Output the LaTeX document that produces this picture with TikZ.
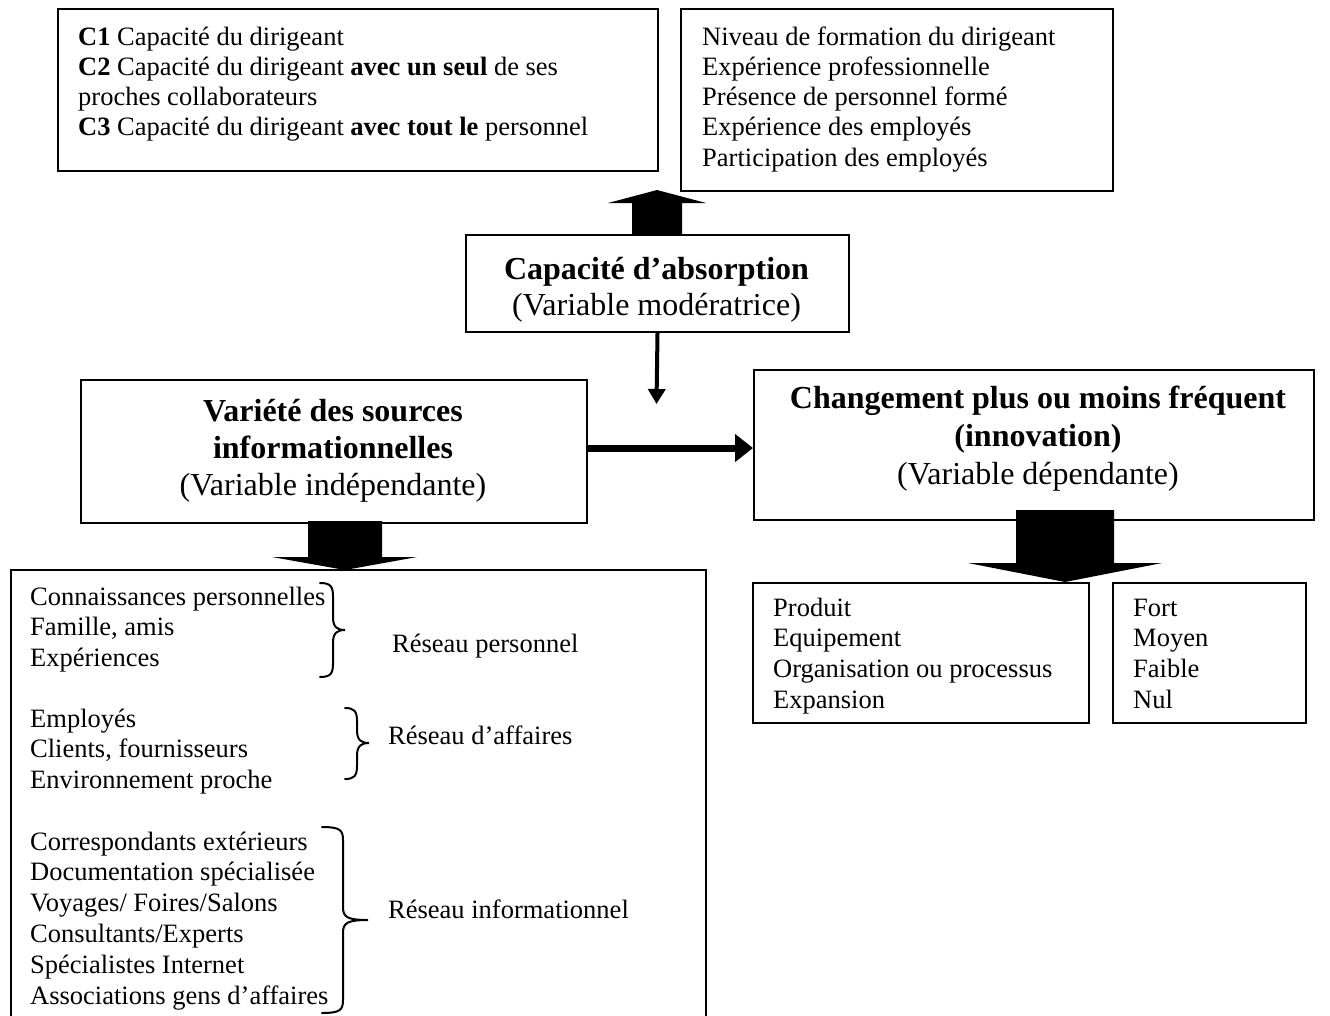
\documentclass[tikz,border=0pt]{standalone}
\usepackage{fontspec}
\setmainfont{Liberation Serif}
\usetikzlibrary{arrows.meta}
\tikzset{
  box/.style={draw, line width=2pt, inner sep=0pt, anchor=north west},
  txt/.style={anchor=base west, inner sep=0pt, font=\fontsize{26.5}{30}\selectfont},
  head/.style={anchor=base, inner sep=0pt, font=\fontsize{32}{37}\selectfont},
  blockarrow/.style={fill=black, draw=none},
  bracestyle/.style={line width=2pt, line cap=round},
  thinarrow/.style={line width=4pt, -{Triangle[length=15pt,width=17pt]}},
  thickarrow/.style={line width=7pt, -{Triangle[length=18pt,width=27pt]}},
}
% x0, xv, xtip, ytop, ymid, ybot
\newcommand\curlybr[6]{%
  \draw[bracestyle] (#1,#4) .. controls ({#2-3},#4) and (#2,{#4+3}) .. (#2,{#4+13})
    -- (#2,{#5-13}) .. controls (#2,{#5-3}) and ({#2+4},#5) .. (#3,#5)
    .. controls ({#2+4},#5) and (#2,{#5+3}) .. (#2,{#5+13})
    -- (#2,{#6-13}) .. controls (#2,{#6-3}) and ({#2-3},#6) .. (#1,#6);}
\begin{document}
\begin{tikzpicture}[x=1pt,y=-1pt]
\useasboundingbox (0,0) rectangle (1330,1015);
\fill[white] (0,0) rectangle (1330,1015);

% boxes
\node[box, minimum width=600pt, minimum height=162pt] (A) at (57,8) {};
\node[box, minimum width=432pt, minimum height=182pt] (B) at (680,8) {};
\node[box, minimum width=383pt, minimum height=97pt] (C) at (465,234) {};
\node[box, minimum width=506pt, minimum height=143pt] (D) at (80,379) {};
\node[box, minimum width=560pt, minimum height=150pt] (E) at (753,369) {};
\node[box, minimum width=695pt, minimum height=470pt] (F) at (10,569) {};
\node[box, minimum width=336pt, minimum height=140pt] (G) at (752,582) {};
\node[box, minimum width=193pt, minimum height=140pt] (H) at (1112,582) {};

% box A text
\node[txt] (a1) at (78,45) {\textbf{C1} Capacité du dirigeant};
\node[txt] (a2) at (78,75) {\textbf{C2} Capacité du dirigeant \textbf{avec un seul} de ses};
\node[txt] (a3) at (78,105) {proches collaborateurs};
\node[txt] (a4) at (78,135) {\textbf{C3} Capacité du dirigeant \textbf{avec tout le} personnel};

% box B text
\foreach \t [count=\i] in {Niveau de formation du dirigeant, Expérience professionnelle,
  Présence de personnel formé, Expérience des employés, Participation des employés}
  \node[txt] (b\i) at (702,{45+30.3*(\i-1)}) {\t};

% box C text
\node[head] (c1) at (656.5,279) {\textbf{Capacité d’absorption}};
\node[head] (c2) at (656.5,315) {(Variable modératrice)};

% box D text
\node[head] (d1) at (333,421) {\textbf{Variété des sources}};
\node[head] (d2) at (333,458) {\textbf{informationnelles}};
\node[head] (d3) at (333,495) {(Variable indépendante)};

% box E text
\node[head] (e1) at (1038,408) {\textbf{Changement plus ou moins fréquent}};
\node[head] (e2) at (1038,446) {\textbf{(innovation)}};
\node[head] (e3) at (1038,484) {(Variable dépendante)};

% box F text
\foreach \t [count=\i] in {Connaissances personnelles, {Famille, amis}, Expériences}
  \node[txt] (f\i) at (30,{605+30.5*(\i-1)}) {\t};
\foreach \t [count=\i] in {Employés, {Clients, fournisseurs}, Environnement proche}
  \node[txt] (g\i) at (30,{727+30.5*(\i-1)}) {\t};
\foreach \t [count=\i] in {Correspondants extérieurs, Documentation spécialisée,
  Voyages/ Foires/Salons, Consultants/Experts, Spécialistes Internet, Associations gens d’affaires}
  \node[txt] (h\i) at (30,{850+30.8*(\i-1)}) {\t};
\node[txt] (r1) at (392,652) {Réseau personnel};
\node[txt] (r2) at (388,744) {Réseau d’affaires};
\node[txt] (r3) at (388,918) {Réseau informationnel};

\curlybr{320}{333}{345}{583}{630}{677}
\curlybr{345}{357}{369}{708}{743}{779}
\curlybr{322}{343}{368}{827}{920}{1013}

% box G and H text
\foreach \t [count=\i] in {Produit, Equipement, Organisation ou processus, Expansion}
  \node[txt] (p\i) at (773,{616+30.7*(\i-1)}) {\t};
\foreach \t [count=\i] in {Fort, Moyen, Faible, Nul}
  \node[txt] (q\i) at (1133,{616+30.7*(\i-1)}) {\t};

% block arrows
\fill[blockarrow] (632,234) -- (632,203) -- (608,203) -- (657,190) -- (706,203) -- (682,203) -- (682,234) -- cycle;
\fill[blockarrow] (308,521) -- (382,521) -- (382,557) -- (417,557) -- (345,570) -- (272,557) -- (308,557) -- cycle;
\fill[blockarrow] (1016,510) -- (1114,510) -- (1114,563) -- (1162,563) -- (1065,582) -- (968,563) -- (1016,563) -- cycle;

% line arrows
\coordinate (mid) at (656.5,404);
\draw[thinarrow] (C.south) -- (mid);
\coordinate (hy) at (0,448);
\draw[thickarrow] (D.east |- hy) -- (E.west |- hy);
\end{tikzpicture}
\end{document}
